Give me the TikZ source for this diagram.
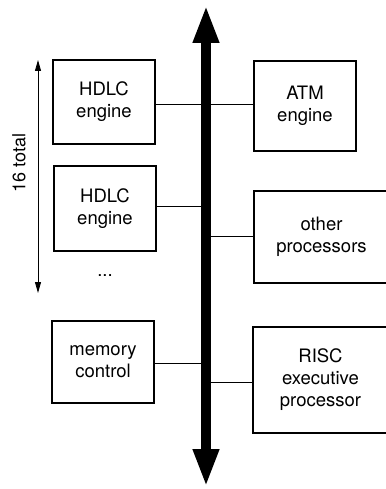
\documentclass[tikz,border=0pt]{standalone}
\usepackage{fontspec}
\setmainfont{TeX Gyre Heros}
\usetikzlibrary{arrows.meta}
\begin{document}
\begin{tikzpicture}[x=1pt, y=-1pt,
  unit/.style={draw, line width=1.8pt, align=center, font=\fontsize{18.5}{22}\selectfont, inner sep=0pt},
  wire/.style={line width=0.8pt},
  bus/.style={line width=10pt, {Triangle[length=38pt,width=24pt]}-{Triangle[length=38pt,width=24pt]}}]
\useasboundingbox (0,0) rectangle (385,489);
% Bus
\coordinate (bustop) at (206,5);
\coordinate (busbot) at (206,487);
\draw[bus] (busbot) -- (bustop);

% Left side
\node[unit, minimum width=102pt, minimum height=84pt] (hdlcA) at (104,102) {HDLC\\engine};
\node[unit, minimum width=102pt, minimum height=85pt] (hdlcB) at (105,208.5) {HDLC\\engine};
\node[font=\fontsize{18.5}{22}\selectfont] (dots) at (105,276) {...};
\node[unit, minimum width=102pt, minimum height=82pt] (mem) at (103,362) {memory\\control};

% Right side
\node[unit, minimum width=102pt, minimum height=90pt] (atm) at (305,106) {ATM\\engine};
\node[unit, minimum width=135pt, minimum height=92pt] (other) at (321.5,237) {other\\processors};
\node[unit, minimum width=135pt, minimum height=106pt] (risc) at (320.5,380) {RISC\\executive\\processor};

% Connections
\coordinate (b1) at (206,104);
\coordinate (b2) at (206,206);
\coordinate (b3) at (206,236);
\coordinate (b4) at (206,363);
\coordinate (b5) at (206,382);
\draw[wire] (hdlcA.east |- b1) -- (atm.west |- b1);
\draw[wire] (hdlcB.east |- b2) -- (b2);
\draw[wire] (b3) -- (other.west |- b3);
\draw[wire] (mem.east |- b4) -- (b4);
\draw[wire] (b5) -- (risc.west |- b5);

% Count
\coordinate (cnttop) at (38,60);
\coordinate (cntbot) at (38,293);
\draw[line width=0.8pt, {Triangle[length=11pt,width=6pt]}-{Triangle[length=11pt,width=6pt]}] (cntbot) -- (cnttop);
\node[rotate=90, font=\fontsize{18}{22}\selectfont] (cnt) at (19,163) {16 total};
\end{tikzpicture}
\end{document}
